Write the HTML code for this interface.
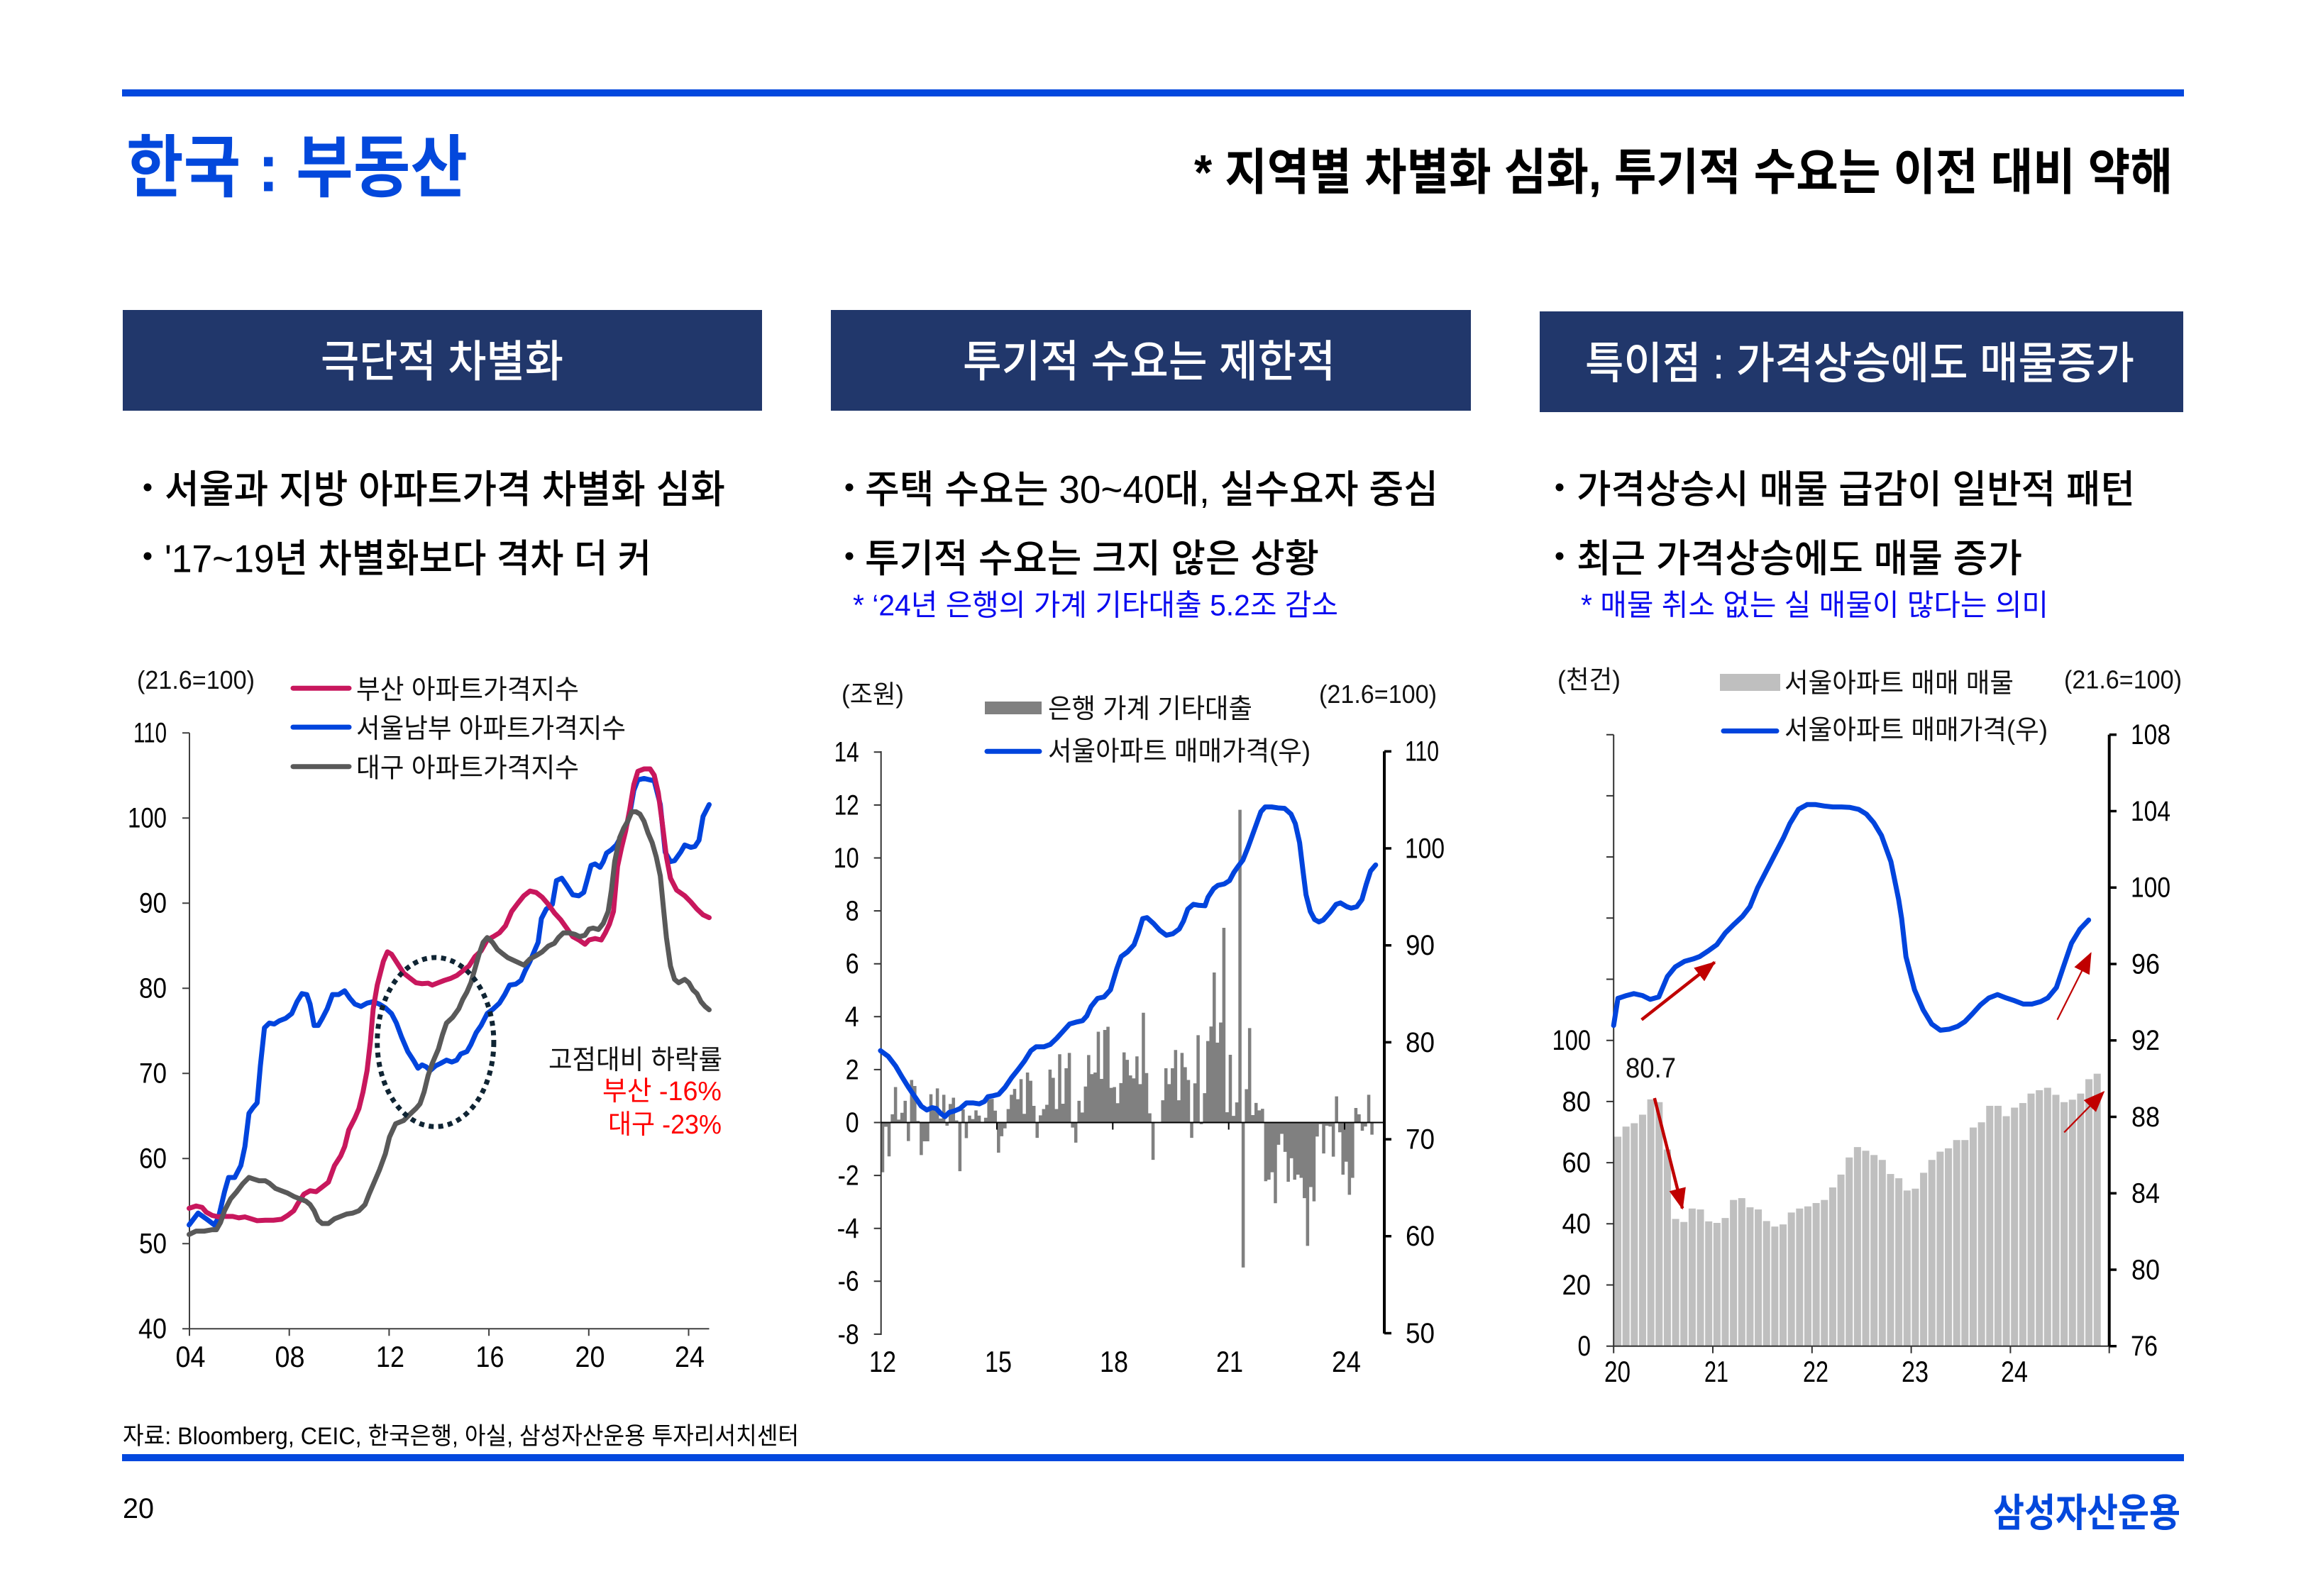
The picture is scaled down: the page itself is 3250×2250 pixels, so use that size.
<!DOCTYPE html>
<html><head><meta charset="utf-8"><style>
html,body{margin:0;padding:0;background:#fff;}
svg{display:block;}
text{font-family:"Liberation Sans","Noto Sans CJK KR",sans-serif;}
</style></head><body>
<svg width="3250" height="2250" viewBox="0 0 3250 2250" xmlns="http://www.w3.org/2000/svg">
<defs>
<marker id="ah" markerWidth="30" markerHeight="24" refX="28" refY="12" orient="auto" markerUnits="userSpaceOnUse"><path d="M0,0 L30,12 L0,24 z" fill="#C00000"/></marker>
</defs>
<rect x="0" y="0" width="3250" height="2250" fill="#fff"/>

<!-- header -->
<rect x="172" y="126" width="2906" height="10" fill="#0348DE"/>
<text x="178" y="269.5" font-size="96" font-weight="700" fill="#0348DC" textLength="481" lengthAdjust="spacingAndGlyphs">한국 : 부동산</text>
<text x="1683" y="267" font-size="70" font-weight="700" fill="#000" textLength="1379" lengthAdjust="spacingAndGlyphs">* 지역별 차별화 심화, 투기적 수요는 이전 대비 약해</text>

<!-- boxes -->
<rect x="173" y="437" width="901" height="142" fill="#21376B"/>
<rect x="1171" y="437" width="902" height="142" fill="#21376B"/>
<rect x="2170" y="439" width="907" height="142" fill="#21376B"/>
<text x="452" y="531" font-size="62" font-weight="500" fill="#fff" textLength="342" lengthAdjust="spacingAndGlyphs">극단적 차별화</text>
<text x="1357" y="531" font-size="62" font-weight="500" fill="#fff" textLength="525" lengthAdjust="spacingAndGlyphs">투기적 수요는 제한적</text>
<text x="2234" y="533.5" font-size="62" font-weight="500" fill="#fff" textLength="774" lengthAdjust="spacingAndGlyphs">특이점 : 가격상승에도 매물증가</text>

<!-- bullets -->
<g fill="#000">
<circle cx="208" cy="687" r="5.5"/><circle cx="208" cy="784" r="5.5"/>
<circle cx="1197" cy="687" r="5.5"/><circle cx="1197" cy="784" r="5.5"/>
<circle cx="2198" cy="687" r="5.5"/><circle cx="2198" cy="784" r="5.5"/>
</g>
<g font-size="55" font-weight="500" fill="#000">
<text x="232" y="709" textLength="790" lengthAdjust="spacingAndGlyphs">서울과 지방 아파트가격 차별화 심화</text>
<text x="232" y="806.5" textLength="686" lengthAdjust="spacingAndGlyphs">'17~19년 차별화보다 격차 더 커</text>
<text x="1219" y="709" textLength="808" lengthAdjust="spacingAndGlyphs">주택 수요는 30~40대, 실수요자 중심</text>
<text x="1219" y="806.5" textLength="640" lengthAdjust="spacingAndGlyphs">투기적 수요는 크지 않은 상황</text>
<text x="2222" y="709" textLength="787" lengthAdjust="spacingAndGlyphs">가격상승시 매물 급감이 일반적 패턴</text>
<text x="2222" y="806.5" textLength="628" lengthAdjust="spacingAndGlyphs">최근 가격상승에도 매물 증가</text>
</g>
<g font-size="42" fill="#0A0AF0">
<text x="1202" y="867.5" textLength="684" lengthAdjust="spacingAndGlyphs">* ‘24년 은행의 가계 기타대출 5.2조 감소</text>
<text x="2228" y="867.5" textLength="659" lengthAdjust="spacingAndGlyphs">* 매물 취소 없는 실 매물이 많다는 의미</text>
</g>

<!-- ============ CHART 1 ============ -->
<g fill="#111" font-size="36">
<text x="193" y="971" textLength="166" lengthAdjust="spacingAndGlyphs">(21.6=100)</text>
</g>
<g stroke-width="7" stroke-linecap="round">
<line x1="413" y1="970.2" x2="492" y2="970.2" stroke="#C8175D"/>
<line x1="413" y1="1025.1" x2="492" y2="1025.1" stroke="#0044DD"/>
<line x1="413" y1="1080.7" x2="492" y2="1080.7" stroke="#595959"/>
</g>
<g font-size="38" fill="#111">
<text x="502" y="985" textLength="314" lengthAdjust="spacingAndGlyphs">부산 아파트가격지수</text>
<text x="502" y="1040" textLength="380" lengthAdjust="spacingAndGlyphs">서울남부 아파트가격지수</text>
<text x="502" y="1095.5" textLength="314" lengthAdjust="spacingAndGlyphs">대구 아파트가격지수</text>
</g>
<g stroke="#404040" stroke-width="2" fill="none">
<path d="M267,1033.3V1873.3H999.5"/>
<path d="M257,1033.3H267M257,1153.3H267M257,1273.3H267M257,1393.3H267M257,1513.3H267M257,1633.3H267M257,1753.3H267M257,1873.3H267"/>
<path d="M267,1873.3V1883.3M407.7,1873.3V1883.3M548.4,1873.3V1883.3M689.1,1873.3V1883.3M829.8,1873.3V1883.3M970.5,1873.3V1883.3"/>
</g>
<g font-size="40" fill="#000">
<text x="188" y="1046.7" textLength="47" lengthAdjust="spacingAndGlyphs">110</text>
<text x="180" y="1166.7" textLength="55" lengthAdjust="spacingAndGlyphs">100</text>
<text x="196" y="1286.7" textLength="39" lengthAdjust="spacingAndGlyphs">90</text>
<text x="196" y="1406.7" textLength="39" lengthAdjust="spacingAndGlyphs">80</text>
<text x="196" y="1526.7" textLength="39" lengthAdjust="spacingAndGlyphs">70</text>
<text x="196" y="1646.7" textLength="39" lengthAdjust="spacingAndGlyphs">60</text>
<text x="196" y="1766.7" textLength="39" lengthAdjust="spacingAndGlyphs">50</text>
<text x="195" y="1886.7" textLength="40" lengthAdjust="spacingAndGlyphs">40</text>
</g>
<g font-size="42" fill="#000">
<text x="247.5" y="1927" textLength="42" lengthAdjust="spacingAndGlyphs">04</text>
<text x="387.5" y="1927" textLength="42" lengthAdjust="spacingAndGlyphs">08</text>
<text x="530" y="1927" textLength="40" lengthAdjust="spacingAndGlyphs">12</text>
<text x="670.5" y="1927" textLength="40" lengthAdjust="spacingAndGlyphs">16</text>
<text x="810.5" y="1927" textLength="42" lengthAdjust="spacingAndGlyphs">20</text>
<text x="951" y="1927" textLength="42" lengthAdjust="spacingAndGlyphs">24</text>
</g>
<g transform="matrix(0.57398 0 0 0.66964 150 920)" fill="none" stroke-width="7" stroke-linejoin="round" stroke-linecap="round">
<polyline vector-effect="non-scaling-stroke" stroke="#0044DD" points="203,1205 225,1180 245,1192 265,1205 275,1190 290,1135 300,1105 315,1105 330,1080 340,1040 350,970 360,958 370,948 378,870 388,790 400,780 412,782 425,775 440,770 455,760 468,735 480,718 492,720 500,740 510,785 520,785 530,770 542,750 555,720 570,720 585,712 598,728 610,740 625,745 640,738 655,735 670,740 685,748 700,760 712,780 725,810 740,840 755,860 765,875 775,868 785,872 795,880 808,870 820,865 835,858 848,862 860,858 870,845 885,840 895,825 908,800 920,785 935,760 950,750 965,738 978,720 990,700 1005,698 1018,690 1028,670 1040,650 1050,630 1060,610 1068,560 1080,540 1095,530 1105,480 1118,475 1130,490 1145,510 1160,512 1172,505 1180,480 1190,448 1200,445 1212,452 1220,440 1228,422 1240,415 1252,405 1262,390 1275,370 1285,340 1295,290 1305,268 1320,265 1345,270 1360,320 1372,420 1385,440 1395,438 1410,420 1420,405 1435,410 1445,408 1455,395 1465,345 1480,320"/>
<polyline vector-effect="non-scaling-stroke" stroke="#C8175D" points="203,1170 220,1165 235,1168 245,1178 260,1185 275,1188 290,1187 310,1187 325,1190 340,1188 355,1192 370,1196 390,1195 410,1195 430,1193 445,1185 460,1175 470,1160 485,1140 500,1133 515,1135 530,1125 545,1115 560,1080 575,1060 585,1040 595,1005 610,980 620,960 630,925 640,880 648,820 655,750 665,700 680,650 690,630 700,635 715,655 730,675 745,685 760,695 775,697 790,696 800,700 815,695 830,690 845,686 860,680 875,670 890,660 905,640 920,628 935,605 950,598 965,590 980,575 995,545 1010,528 1025,512 1040,502 1055,505 1070,515 1085,530 1100,548 1115,562 1130,580 1145,598 1160,605 1175,614 1185,605 1200,602 1215,605 1225,590 1235,572 1245,545 1255,450 1265,410 1275,375 1285,330 1295,278 1305,250 1320,245 1335,245 1345,258 1355,295 1365,360 1375,430 1385,475 1400,500 1420,512 1435,525 1450,540 1465,552 1480,558"/>
<polyline vector-effect="non-scaling-stroke" stroke="#595959" points="203,1225 220,1218 240,1218 260,1215 270,1215 280,1200 290,1175 305,1150 320,1135 335,1118 350,1105 360,1108 375,1112 390,1112 400,1117 415,1128 430,1133 445,1138 460,1145 475,1150 490,1155 500,1162 510,1175 520,1195 530,1202 545,1202 560,1192 575,1187 590,1182 605,1180 620,1175 635,1162 645,1140 655,1120 670,1090 685,1055 695,1020 710,992 730,985 745,972 760,960 770,950 780,925 790,890 800,865 815,835 825,805 835,780 850,768 865,750 875,730 885,715 895,695 905,665 915,635 925,610 935,600 948,610 960,625 970,632 985,642 1000,648 1015,654 1025,658 1040,645 1055,638 1070,630 1085,618 1100,612 1110,600 1122,590 1135,590 1150,593 1162,598 1175,595 1185,582 1195,580 1208,583 1220,570 1232,545 1240,500 1248,440 1260,390 1270,370 1280,355 1290,335 1300,335 1310,340 1320,355 1330,380 1340,400 1350,430 1360,470 1368,540 1375,600 1385,660 1395,688 1405,695 1420,688 1430,695 1440,710 1450,718 1460,735 1470,745 1480,752"/>
</g>
<ellipse cx="613.8" cy="1469.1" rx="82.1" ry="119.2" fill="none" stroke="#0F2433" stroke-width="7" stroke-dasharray="7 6.5"/>
<text x="773" y="1507" font-size="38" fill="#111" textLength="245" lengthAdjust="spacingAndGlyphs">고점대비 하락률</text>
<text x="849" y="1551" font-size="38" fill="#FF0000" textLength="168" lengthAdjust="spacingAndGlyphs">부산  -16%</text>
<text x="857" y="1598" font-size="38" fill="#FF0000" textLength="160" lengthAdjust="spacingAndGlyphs">대구 -23%</text>

<!-- ============ CHART 2 ============ -->
<g font-size="36" fill="#111">
<text x="1186" y="991" textLength="88" lengthAdjust="spacingAndGlyphs">(조원)</text>
<text x="1859" y="991" textLength="166" lengthAdjust="spacingAndGlyphs">(21.6=100)</text>
</g>
<rect x="1388" y="989" width="80" height="18" fill="#808080"/>
<line x1="1391" y1="1059.3" x2="1465" y2="1059.3" stroke="#0044DD" stroke-width="7" stroke-linecap="round"/>
<g font-size="38" fill="#111">
<text x="1477" y="1012" textLength="288" lengthAdjust="spacingAndGlyphs">은행 가계 기타대출</text>
<text x="1477" y="1072" textLength="370" lengthAdjust="spacingAndGlyphs">서울아파트 매매가격(우)</text>
</g>
<path transform="translate(1241.7 1582.5) scale(4.537 -37.3)" fill="#808080" d="M0,0V-1.88H1V-0.16H2V-1.28H3V0.31H4V1.34H5V0.11H6V0.37H7V0.82H8V-0.7H9V1.61H10V1.38H11V0.06H12V-1.23H13V-0.71H15V1.07H16V0.5H17V1.29H18V0.15H19V1.05H20V-0.12H21V0.7H22V0.94H23V0.08H24V-1.84H25V0.5H26V-0.59H27V0.26H28V0.13H29V0.46H30V0.26H31V0.02H32V0.18H33V0.89H35V0.45H36V-1.14H37V-0.52H38V-0.22H39V0.51H40V1.05H41V1.27H42V0.88H43V1.64H44V0.33H45V1.89H46V1.58H47V0.63H48V-0.58H49V0.27H50V0.51H51V0.67H52V2H53V1.69H54V0.51H55V2.58H56V0.71H57V2.05H58V2.63H59V-0.19H60V-0.76H61V0.82H62V0.38H63V1.36H64V2.55H65V1.83H66V1.89H67V3.43H68V1.65H69V3.5H70V3.62H71V1.31H72V1.34H73V0.73H74V1.49H75V2.65H76V2.37H77V1.78H78V1.67H79V2.5H80V1.45H81V4.15H82V1.87H83V0.35H84V-1.41H85V0.02H87V0.84H88V2.05H89V1.45H90V2.05H91V2.74H92V0.84H93V2.63H94V2.09H95V1.61H96V-0.58H97V1.48H98V3.3H99V-0.06H100V1.11H101V3.08H102V3.63H103V5.67H104V3.02H105V3.78H106V7.36H107V0.39H108V2.56H109V0.25H110V0.76H111V11.82H112V-5.48H113V1.26H114V3.57H115V0.28H116V0.74H117V0.46H118V0.52H119V-2.22H120V-2.16H121V-1.88H122V-3.05H123V-0.84H124V-0.43H125V-1.11H126V-2.24H127V-1.35H128V-2.16H129V-1.97H130V-2.09H131V-2.86H132V-4.66H133V-2.44H134V-2.98H135V-0.53H136V-0.06H137V-1.17H138V-0.12H139V-0.15H140V-1.29H141V0.99H142V-0.37H143V-1.97H144V-1.48H145V-2.73H146V-2.09H147V0.55H148V0.31H149V-0.31H150V-0.15H151V1.05H152V-0.46H153V0Z"/>
<g fill="none">
<path d="M1241.7,1059V1882" stroke="#333" stroke-width="2"/>
<path d="M1231.7,1060.3H1241.7M1231.7,1134.9H1241.7M1231.7,1209.5H1241.7M1231.7,1284.1H1241.7M1231.7,1358.7H1241.7M1231.7,1433.3H1241.7M1231.7,1507.9H1241.7M1231.7,1582.5H1241.7M1231.7,1657.1H1241.7M1231.7,1731.7H1241.7M1231.7,1806.3H1241.7M1231.7,1880.9H1241.7" stroke="#333" stroke-width="2"/>
<path d="M1241.7,1582.5H1951" stroke="#000" stroke-width="2"/>
<path d="M1405,1582.5V1592.5M1568.3,1582.5V1592.5M1731.7,1582.5V1592.5M1895,1582.5V1592.5" stroke="#000" stroke-width="2"/>
<path d="M1951,1059.3V1880" stroke="#000" stroke-width="4"/>
<path d="M1951,1059.3H1961M1951,1196H1961M1951,1332.7H1961M1951,1469.4H1961M1951,1606.1H1961M1951,1742.8H1961M1951,1879.5H1961" stroke="#000" stroke-width="3.5"/>
</g>
<g transform="matrix(0.60586 0 0 0.66964 1150 920)" fill="none" stroke="#0044DD" stroke-width="7" stroke-linejoin="round" stroke-linecap="round">
<polyline vector-effect="non-scaling-stroke" points="150,838 168,850 185,870 200,893 215,915 230,935 245,955 258,963 270,958 280,960 290,970 300,977 310,968 322,965 335,960 350,948 365,948 380,950 392,945 400,935 412,933 425,930 440,915 455,895 470,878 485,860 500,838 512,830 530,830 545,825 560,812 575,797 590,782 605,778 620,775 630,765 640,745 655,728 670,725 685,710 700,665 710,640 725,630 740,615 750,590 760,560 770,558 785,570 800,585 815,595 830,592 845,582 855,565 865,540 878,530 890,532 905,533 912,515 925,497 935,490 950,487 962,480 972,463 982,450 993,437 1005,410 1015,385 1025,360 1035,335 1045,325 1060,325 1075,327 1090,328 1105,340 1115,360 1125,400 1133,460 1140,510 1150,545 1160,562 1170,567 1180,563 1195,548 1210,530 1220,527 1235,535 1245,538 1258,535 1270,520 1280,488 1290,460 1302,447"/>
</g>
<g font-size="40" fill="#000">
<text x="1175.6" y="1073.7" textLength="35" lengthAdjust="spacingAndGlyphs">14</text>
<text x="1175.6" y="1148.3" textLength="35" lengthAdjust="spacingAndGlyphs">12</text>
<text x="1174.6" y="1222.9" textLength="36" lengthAdjust="spacingAndGlyphs">10</text>
<text x="1191.6" y="1297.5" textLength="19" lengthAdjust="spacingAndGlyphs">8</text>
<text x="1191.6" y="1372.1" textLength="19" lengthAdjust="spacingAndGlyphs">6</text>
<text x="1190.6" y="1446.7" textLength="20" lengthAdjust="spacingAndGlyphs">4</text>
<text x="1191.6" y="1521.3" textLength="19" lengthAdjust="spacingAndGlyphs">2</text>
<text x="1191.6" y="1595.9" textLength="19" lengthAdjust="spacingAndGlyphs">0</text>
<text x="1180.6" y="1670.5" textLength="30" lengthAdjust="spacingAndGlyphs">-2</text>
<text x="1179.6" y="1745.1" textLength="31" lengthAdjust="spacingAndGlyphs">-4</text>
<text x="1180.6" y="1819.7" textLength="30" lengthAdjust="spacingAndGlyphs">-6</text>
<text x="1180.6" y="1894.3" textLength="30" lengthAdjust="spacingAndGlyphs">-8</text>
<text x="1980" y="1072.7" textLength="48" lengthAdjust="spacingAndGlyphs">110</text>
<text x="1980" y="1209.4" textLength="56" lengthAdjust="spacingAndGlyphs">100</text>
<text x="1981" y="1346.1" textLength="41" lengthAdjust="spacingAndGlyphs">90</text>
<text x="1981" y="1482.8" textLength="41" lengthAdjust="spacingAndGlyphs">80</text>
<text x="1981" y="1619.5" textLength="41" lengthAdjust="spacingAndGlyphs">70</text>
<text x="1981" y="1756.2" textLength="41" lengthAdjust="spacingAndGlyphs">60</text>
<text x="1981" y="1892.9" textLength="41" lengthAdjust="spacingAndGlyphs">50</text>
</g>
<g font-size="42" fill="#000">
<text x="1225" y="1934" textLength="38" lengthAdjust="spacingAndGlyphs">12</text>
<text x="1388" y="1934" textLength="38" lengthAdjust="spacingAndGlyphs">15</text>
<text x="1550" y="1934" textLength="40" lengthAdjust="spacingAndGlyphs">18</text>
<text x="1714" y="1934" textLength="38" lengthAdjust="spacingAndGlyphs">21</text>
<text x="1877" y="1934" textLength="41" lengthAdjust="spacingAndGlyphs">24</text>
</g>

<!-- ============ CHART 3 ============ -->
<g font-size="36" fill="#111">
<text x="2195" y="970.5" textLength="89" lengthAdjust="spacingAndGlyphs">(천건)</text>
<text x="2909" y="970.5" textLength="166" lengthAdjust="spacingAndGlyphs">(21.6=100)</text>
</g>
<rect x="2424" y="950" width="85" height="24" fill="#BFBFBF"/>
<line x1="2429" y1="1030.5" x2="2504" y2="1030.5" stroke="#0044DD" stroke-width="7" stroke-linecap="round"/>
<g font-size="38" fill="#111">
<text x="2515" y="976" textLength="323" lengthAdjust="spacingAndGlyphs">서울아파트 매매 매물</text>
<text x="2515" y="1042" textLength="371" lengthAdjust="spacingAndGlyphs">서울아파트 매매가격(우)</text>
</g>
<g transform="translate(2274.2 1897.7) scale(11.65 -4.31)" fill="#BFBFBF">
<rect x="0.07" width="0.86" height="68.5"/><rect x="1.07" width="0.86" height="71.8"/><rect x="2.07" width="0.86" height="72.9"/><rect x="3.07" width="0.86" height="75.7"/><rect x="4.07" width="0.86" height="80.7"/><rect x="5.07" width="0.86" height="79.8"/><rect x="6.07" width="0.86" height="64.3"/><rect x="7.07" width="0.86" height="41.6"/><rect x="8.07" width="0.86" height="40.6"/><rect x="9.07" width="0.86" height="45"/><rect x="10.07" width="0.86" height="44.7"/><rect x="11.07" width="0.86" height="40.8"/><rect x="12.07" width="0.86" height="40.3"/><rect x="13.07" width="0.86" height="41.9"/><rect x="14.07" width="0.86" height="47.8"/><rect x="15.07" width="0.86" height="48.4"/><rect x="16.07" width="0.86" height="45.4"/><rect x="17.07" width="0.86" height="44.7"/><rect x="18.07" width="0.86" height="40.9"/><rect x="19.07" width="0.86" height="39.1"/><rect x="20.07" width="0.86" height="39.8"/><rect x="21.07" width="0.86" height="43.7"/><rect x="22.07" width="0.86" height="45"/><rect x="23.07" width="0.86" height="45.7"/><rect x="24.07" width="0.86" height="46.8"/><rect x="25.07" width="0.86" height="47.8"/><rect x="26.07" width="0.86" height="51.9"/><rect x="27.07" width="0.86" height="56.1"/><rect x="28.07" width="0.86" height="61.7"/><rect x="29.07" width="0.86" height="65.1"/><rect x="30.07" width="0.86" height="63.9"/><rect x="31.07" width="0.86" height="62.5"/><rect x="32.07" width="0.86" height="60.9"/><rect x="33.07" width="0.86" height="56.3"/><rect x="34.07" width="0.86" height="54.9"/><rect x="35.07" width="0.86" height="50.9"/><rect x="36.07" width="0.86" height="51.5"/><rect x="37.07" width="0.86" height="56.7"/><rect x="38.07" width="0.86" height="60.9"/><rect x="39.07" width="0.86" height="63.6"/><rect x="40.07" width="0.86" height="64.7"/><rect x="41.07" width="0.86" height="67.4"/><rect x="42.07" width="0.86" height="67.4"/><rect x="43.07" width="0.86" height="71.5"/><rect x="44.07" width="0.86" height="73.2"/><rect x="45.07" width="0.86" height="78.6"/><rect x="46.07" width="0.86" height="78.6"/><rect x="47.07" width="0.86" height="75.2"/><rect x="48.07" width="0.86" height="78"/><rect x="49.07" width="0.86" height="79.5"/><rect x="50.07" width="0.86" height="82.6"/><rect x="51.07" width="0.86" height="83.7"/><rect x="52.07" width="0.86" height="84.5"/><rect x="53.07" width="0.86" height="82.2"/><rect x="54.07" width="0.86" height="79.8"/><rect x="55.07" width="0.86" height="80.6"/><rect x="56.07" width="0.86" height="82.6"/><rect x="57.07" width="0.86" height="87.3"/><rect x="58.07" width="0.86" height="89.1"/>
</g>
<g fill="none">
<path d="M2274.2,1035.7V1897.7H2972.7" stroke="#333" stroke-width="2"/>
<path d="M2264,1035.7H2274.2M2264,1121.9H2274.2M2264,1208.1H2274.2M2264,1294.3H2274.2M2264,1380.5H2274.2M2264,1466.7H2274.2M2264,1552.9H2274.2M2264,1639.1H2274.2M2264,1725.3H2274.2M2264,1811.5H2274.2M2264,1897.7H2274.2" stroke="#333" stroke-width="2"/>
<path d="M2274.2,1897.7V1907.7M2414,1897.7V1907.7M2553.8,1897.7V1907.7M2693.6,1897.7V1907.7M2833.4,1897.7V1907.7M2972.7,1897.7V1907.7" stroke="#333" stroke-width="2"/>
<path d="M2972.7,1035.8V1897.7" stroke="#000" stroke-width="4"/>
<path d="M2972.7,1035.8H2983M2972.7,1143.5H2983M2972.7,1251.3H2983M2972.7,1359H2983M2972.7,1466.8H2983M2972.7,1574.5H2983M2972.7,1682.2H2983M2972.7,1790H2983M2972.7,1897.7H2983" stroke="#000" stroke-width="3.5"/>
</g>
<g transform="matrix(0.60586 0 0 0.66964 2150 920)" fill="none" stroke="#0044DD" stroke-width="7" stroke-linejoin="round" stroke-linecap="round">
<polyline vector-effect="non-scaling-stroke" points="205,785 215,728 235,722 252,718 272,722 290,730 310,725 330,682 348,662 370,650 390,645 405,640 425,628 445,615 465,590 485,572 505,555 522,535 540,495 560,460 580,425 600,390 615,360 635,330 655,320 675,320 695,323 715,325 735,325 755,326 775,330 793,340 810,358 828,385 850,440 868,520 875,560 885,640 905,710 925,752 945,782 965,795 985,793 1005,787 1022,777 1040,760 1058,742 1078,727 1098,720 1118,727 1138,733 1158,740 1178,740 1198,735 1215,727 1235,705 1250,665 1270,612 1290,582 1310,563"/>
</g>
<g stroke="#C00000" fill="none" marker-end="url(#ah)">
<line x1="2313.6" y1="1437.6" x2="2416.6" y2="1356.6" stroke-width="4.5"/>
<line x1="2331.8" y1="1548.1" x2="2371.1" y2="1703.5" stroke-width="4.5"/>
<line x1="2899.5" y1="1437.6" x2="2946.7" y2="1343.9" stroke-width="2.2"/>
<line x1="2909.2" y1="1596.4" x2="2964.9" y2="1539.4" stroke-width="2.2"/>
</g>
<text x="2291" y="1519" font-size="40" fill="#111" textLength="71" lengthAdjust="spacingAndGlyphs">80.7</text>
<g font-size="40" fill="#000">
<text x="2187.6" y="1480.1" textLength="54.4" lengthAdjust="spacingAndGlyphs">100</text>
<text x="2201.5" y="1566.3" textLength="40.5" lengthAdjust="spacingAndGlyphs">80</text>
<text x="2201.5" y="1652.5" textLength="40.5" lengthAdjust="spacingAndGlyphs">60</text>
<text x="2201.5" y="1738.7" textLength="40.5" lengthAdjust="spacingAndGlyphs">40</text>
<text x="2201.5" y="1824.9" textLength="40.5" lengthAdjust="spacingAndGlyphs">20</text>
<text x="2223.5" y="1911.1" textLength="18.5" lengthAdjust="spacingAndGlyphs">0</text>
<text x="3003" y="1049.2" textLength="56" lengthAdjust="spacingAndGlyphs">108</text>
<text x="3003" y="1156.9" textLength="56" lengthAdjust="spacingAndGlyphs">104</text>
<text x="3003" y="1264.7" textLength="56" lengthAdjust="spacingAndGlyphs">100</text>
<text x="3004" y="1372.4" textLength="40" lengthAdjust="spacingAndGlyphs">96</text>
<text x="3004" y="1480.2" textLength="40" lengthAdjust="spacingAndGlyphs">92</text>
<text x="3004" y="1587.9" textLength="40" lengthAdjust="spacingAndGlyphs">88</text>
<text x="3004" y="1695.6" textLength="40" lengthAdjust="spacingAndGlyphs">84</text>
<text x="3004" y="1803.4" textLength="40" lengthAdjust="spacingAndGlyphs">80</text>
<text x="3003" y="1911.1" textLength="38" lengthAdjust="spacingAndGlyphs">76</text>
</g>
<g font-size="42" fill="#000">
<text x="2261" y="1948" textLength="37" lengthAdjust="spacingAndGlyphs">20</text>
<text x="2402" y="1948" textLength="34" lengthAdjust="spacingAndGlyphs">21</text>
<text x="2541" y="1948" textLength="36" lengthAdjust="spacingAndGlyphs">22</text>
<text x="2680" y="1948" textLength="38" lengthAdjust="spacingAndGlyphs">23</text>
<text x="2820" y="1948" textLength="38" lengthAdjust="spacingAndGlyphs">24</text>
</g>

<!-- footer -->
<text x="173" y="2036" font-size="34" fill="#000" textLength="953" lengthAdjust="spacingAndGlyphs">자료: Bloomberg, CEIC, 한국은행, 아실, 삼성자산운용 투자리서치센터</text>
<rect x="172" y="2050" width="2906" height="10" fill="#0348DE"/>
<text x="173" y="2140" font-size="40" fill="#000" textLength="44" lengthAdjust="spacingAndGlyphs">20</text>
<text x="2809" y="2152" font-size="55" font-weight="700" fill="#0348DC" textLength="264" lengthAdjust="spacingAndGlyphs">삼성자산운용</text>
</svg>
</body></html>
